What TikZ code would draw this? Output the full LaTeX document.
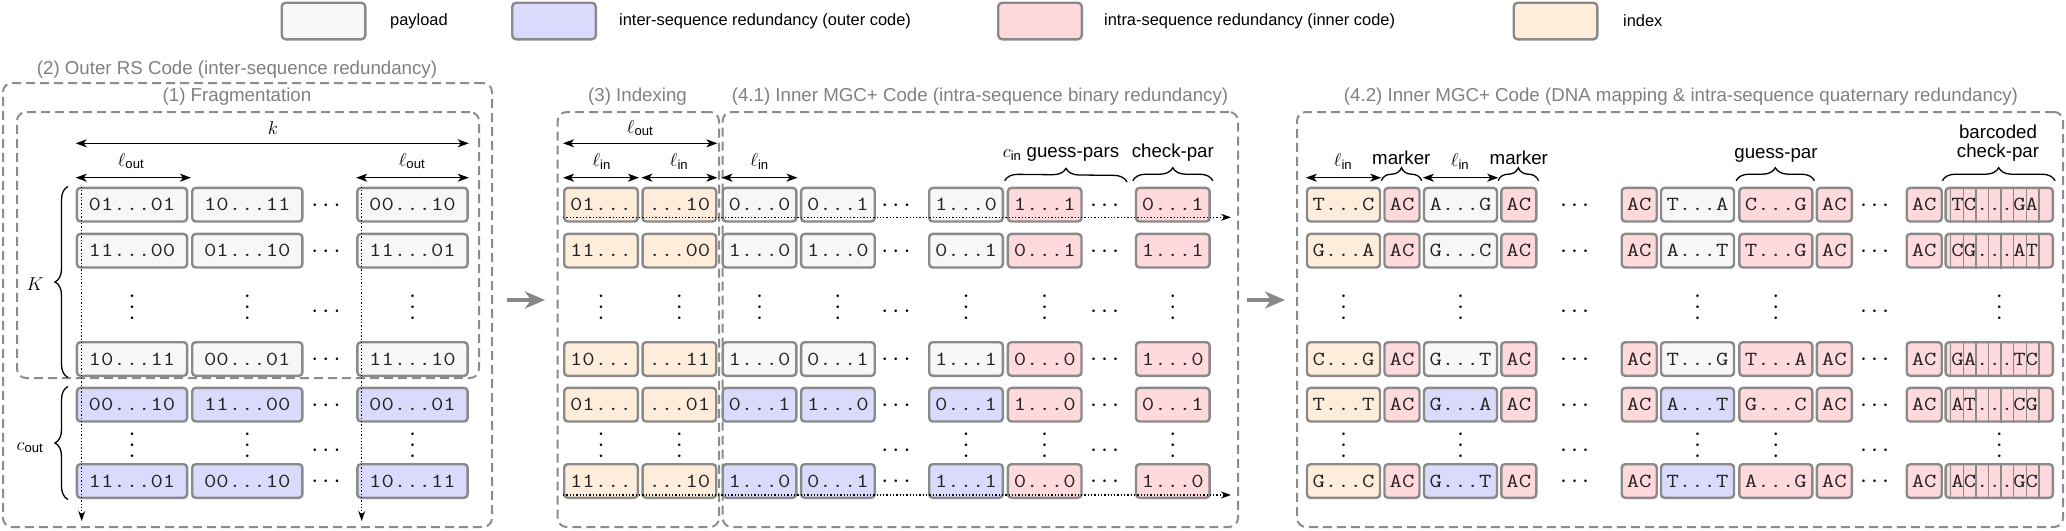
\RequirePackage{fix-cm}
\documentclass[tikz,border=0pt]{standalone}
\usepackage{amsmath}
\usepackage{fontspec}
\setmainfont{Liberation Sans}
\setmonofont{Latin Modern Mono}[FakeStretch=1.2]
\usetikzlibrary{arrows.meta,decorations.pathreplacing}
\definecolor{payc}{HTML}{F7F7F7}
\definecolor{outc}{HTML}{DADAFC}
\definecolor{innc}{HTML}{FFD9DC}
\definecolor{idxc}{HTML}{FFEDDB}
\definecolor{bordc}{HTML}{8A8A8A}
\definecolor{dashc}{HTML}{8C8C8C}
\definecolor{titlec}{HTML}{808080}
\definecolor{arrc}{HTML}{888888}
\definecolor{txtc}{HTML}{222222}
\newcommand{\vdts}{\vbox{\baselineskip=11pt\lineskiplimit=-100pt\hbox{$\cdot$}\hbox{$\cdot$}\hbox{$\cdot$}}}
\tikzset{
 cell/.style={draw=bordc, line width=2.4pt, rounded corners=3.5pt, minimum height=33.6pt, inner sep=0pt, text=txtc, font=\fontsize{20}{24}\selectfont\ttfamily},
 pay/.style={fill=payc}, outr/.style={fill=outc}, innr/.style={fill=innc}, idx/.style={fill=idxc},
 wL/.style={minimum width=110.2pt}, wM/.style={minimum width=73.6pt}, wR/.style={minimum width=73pt},
 wS/.style={minimum width=35pt}, wB/.style={minimum width=107.3pt},
 legbox/.style={draw=bordc, line width=2.4pt, rounded corners=4pt, minimum width=83.6pt, minimum height=36.6pt, inner sep=0pt},
 legtxt/.style={anchor=west, inner sep=0pt, font=\fontsize{16.4}{19}\selectfont},
 panel/.style={draw=dashc, line width=2pt, dash pattern=on 9pt off 5pt, rounded corners=9pt, inner sep=0pt},
 ptitle/.style={text=titlec, inner sep=0pt, font=\fontsize{18.7}{22}\selectfont},
 lbl/.style={inner sep=0pt, anchor=base, font=\fontsize{18.7}{22}\selectfont},
 dimar/.style={line width=1.3pt, >={Stealth[length=11pt,width=8pt,inset=3pt]}, <->},
 flow/.style={line width=1.3pt, dotted, >={Stealth[length=10pt,width=7pt]}, ->},
 brc/.style={line width=1.3pt, decorate, decoration={brace, amplitude=13pt}},
 bigar/.style={draw=arrc, line width=4pt, >={Stealth[length=20pt,width=17pt,inset=6pt]}, ->},
 hd/.style={anchor=base, inner sep=0pt, yshift=-6.3pt, font=\fontsize{25}{28}\selectfont},
 vd/.style={anchor=base, inner sep=0pt, yshift=-17.3pt, font=\fontsize{25}{28}\selectfont},
 bar/.style={draw=bordc, line width=1.5pt},
}
\newcommand{\cl}[5]{\node[cell,#4] (#1) at (#2,#3) {#5};}
\newcommand{\rrow}[8]{%
 \node[cell,idx,wR] (#1a) at (1343.5,#2) {#3};
 \node[cell,innr,wS] (#1b) at (1402,#2) {AC};
 \node[cell,#4,wR] (#1c) at (1460.5,#2) {#5};
 \node[cell,innr,wS] (#1d) at (1518.8,#2) {AC};
 \node[hd] (#1x) at (1576.7,#2) {$\cdots$};
 \node[cell,innr,wS] (#1e) at (1639.2,#2) {AC};
 \node[cell,#4,wR] (#1f) at (1697.5,#2) {#6};
 \node[cell,innr,wR] (#1g) at (1775.8,#2) {#7};
 \node[cell,innr,wS] (#1h) at (1834.3,#2) {AC};
 \node[hd] (#1y) at (1876.7,#2) {$\cdots$};
 \node[cell,innr,wS] (#1i) at (1924.2,#2) {AC};
 \node[cell,innr,wB] (#1j) at (1999.2,#2) {#8\kern9pt};
 \foreach \bi in {0,...,7} \draw[bar] ({1950.7+12.6*\bi},0 |- #1j.north) -- ({1950.7+12.6*\bi},0 |- #1j.south);
}
\def\rA{204.7}\def\rB{250.7}\def\rC{359}\def\rD{404.7}\def\rE{481}
\def\vA{307.5}\def\vB{445.5}\def\hA{311.5}\def\hB{450}
\begin{document}
\begin{tikzpicture}[x=1pt,y=-1pt]
\useasboundingbox (0,0) rectangle (2066,530);
% legend
\node[legbox,pay] (lg1) at (323.5,21) {};
\node[legtxt] (lt1) at (390,21) {payload};
\node[legbox,outr] (lg2) at (554,21) {};
\node[legtxt] (lt2) at (619,21) {inter-sequence redundancy (outer code)};
\node[legbox,innr] (lg3) at (1040,21) {};
\node[legtxt] (lt3) at (1104,21) {intra-sequence redundancy (inner code)};
\node[legbox,idx] (lg4) at (1555.5,21) {};
\node[legtxt] (lt4) at (1623,21) {index};
% panels
\node[panel, minimum width=489pt, minimum height=444pt] (P2) at (247.5,305) {};
\node[ptitle] (T2) at (237,69.5) {(2) Outer RS Code (inter-sequence redundancy)};
\node[panel, minimum width=462pt, minimum height=266pt] (P1) at (248,245) {};
\node[ptitle] (T1) at (237,97) {(1) Fragmentation};
\node[panel, minimum width=161.3pt, minimum height=415pt] (P3) at (638.35,319.5) {};
\node[ptitle] (T3) at (637.5,97) {(3) Indexing};
\node[panel, minimum width=515.3pt, minimum height=415pt] (P41) at (980.35,319.5) {};
\node[ptitle] (T41) at (980,97) {(4.1) Inner MGC+ Code (intra-sequence binary redundancy)};
\node[panel, minimum width=766pt, minimum height=415pt] (P42) at (1680,319.5) {};
\node[ptitle] (T42) at (1681,97) {(4.2) Inner MGC+ Code (DNA mapping \& intra-sequence quaternary redundancy)};
% ---------- left panel
\cl{L1a}{132}{\rA}{pay,wL}{01...01}\cl{L1b}{247.3}{\rA}{pay,wL}{10...11}\cl{L1c}{412.5}{\rA}{pay,wL}{00...10}
\cl{L2a}{132}{\rB}{pay,wL}{11...00}\cl{L2b}{247.3}{\rB}{pay,wL}{01...10}\cl{L2c}{412.5}{\rB}{pay,wL}{11...01}
\cl{L3a}{132}{\rC}{pay,wL}{10...11}\cl{L3b}{247.3}{\rC}{pay,wL}{00...01}\cl{L3c}{412.5}{\rC}{pay,wL}{11...10}
\cl{L4a}{132}{\rD}{outr,wL}{00...10}\cl{L4b}{247.3}{\rD}{outr,wL}{11...00}\cl{L4c}{412.5}{\rD}{outr,wL}{00...01}
\cl{L5a}{132}{\rE}{outr,wL}{11...01}\cl{L5b}{247.3}{\rE}{outr,wL}{00...10}\cl{L5c}{412.5}{\rE}{outr,wL}{10...11}
\foreach \yy/\nn in {\rA/1,\rB/2,\rC/3,\rD/4,\rE/5} \node[hd] (Lh\nn) at (328,\yy) {$\cdots$};
\foreach \xx [count=\i] in {132,247.3,412.5} {
 \node[vd] (Lva\i) at (\xx,\vA) {\vdts};
 \node[vd] (Lvb\i) at (\xx,\vB) {\vdts};
}
\node[hd] (Lhva) at (328,\hA) {$\cdots$};
\node[hd] (Lhvb) at (328,\hB) {$\cdots$};
% dimensions left
\draw[dimar] (L1a.west |- 0,143.3) -- (L1c.east |- 0,143.3);
\draw[dimar] (L1a.west |- 0,177.7) -- (L1b.west |- 0,177.7);
\draw[dimar] (L1c.west |- 0,177.7) -- (L1c.east |- 0,177.7);
\node[lbl] (lk) at (273,134) {$k$};
\node[lbl] (lo1) at (131,166) {$\ell_{\text{out}}$};
\node[lbl] (lo2) at (412,166) {$\ell_{\text{out}}$};
\coordinate (Kb) at (68,377.5); \coordinate (Kt) at (68,186.5);
\coordinate (Cb) at (68,499.5); \coordinate (Ct) at (68,386.5);
\draw[brc] (Kb) -- (Kt);
\draw[brc] (Cb) -- (Ct);
\node[lbl] (lK) at (35,290) {$K$};
\node[lbl] (lc) at (30,450) {$c_{\text{out}}$};
% ---------- middle panel
\cl{M1a}{601}{\rA}{idx,wM}{01...}\cl{M1b}{679.4}{\rA}{idx,wM}{...10}\cl{M1c}{759.5}{\rA}{pay,wM}{0...0}\cl{M1d}{837.9}{\rA}{pay,wM}{0...1}
\cl{M1e}{966}{\rA}{pay,wM}{1...0}\cl{M1f}{1044.7}{\rA}{innr,wM}{1...1}\cl{M1g}{1172.8}{\rA}{innr,wM}{0...1}
\cl{M2a}{601}{\rB}{idx,wM}{11...}\cl{M2b}{679.4}{\rB}{idx,wM}{...00}\cl{M2c}{759.5}{\rB}{pay,wM}{1...0}\cl{M2d}{837.9}{\rB}{pay,wM}{1...0}
\cl{M2e}{966}{\rB}{pay,wM}{0...1}\cl{M2f}{1044.7}{\rB}{innr,wM}{0...1}\cl{M2g}{1172.8}{\rB}{innr,wM}{1...1}
\cl{M3a}{601}{\rC}{idx,wM}{10...}\cl{M3b}{679.4}{\rC}{idx,wM}{...11}\cl{M3c}{759.5}{\rC}{pay,wM}{1...0}\cl{M3d}{837.9}{\rC}{pay,wM}{0...1}
\cl{M3e}{966}{\rC}{pay,wM}{1...1}\cl{M3f}{1044.7}{\rC}{innr,wM}{0...0}\cl{M3g}{1172.8}{\rC}{innr,wM}{1...0}
\cl{M4a}{601}{\rD}{idx,wM}{01...}\cl{M4b}{679.4}{\rD}{idx,wM}{...01}\cl{M4c}{759.5}{\rD}{outr,wM}{0...1}\cl{M4d}{837.9}{\rD}{outr,wM}{1...0}
\cl{M4e}{966}{\rD}{outr,wM}{0...1}\cl{M4f}{1044.7}{\rD}{innr,wM}{1...0}\cl{M4g}{1172.8}{\rD}{innr,wM}{0...1}
\cl{M5a}{601}{\rE}{idx,wM}{11...}\cl{M5b}{679.4}{\rE}{idx,wM}{...10}\cl{M5c}{759.5}{\rE}{outr,wM}{1...0}\cl{M5d}{837.9}{\rE}{outr,wM}{0...1}
\cl{M5e}{966}{\rE}{outr,wM}{1...1}\cl{M5f}{1044.7}{\rE}{innr,wM}{0...0}\cl{M5g}{1172.8}{\rE}{innr,wM}{1...0}
\foreach \yy/\nn in {\rA/1,\rB/2,\rC/3,\rD/4,\rE/5} {
 \node[hd] (Mh\nn) at (898,\yy) {$\cdots$};
 \node[hd] (Mk\nn) at (1106.7,\yy) {$\cdots$};
}
\foreach \xx [count=\i] in {601,679.4,759.5,837.9,966,1044.7,1172.8} \node[vd] (Mva\i) at (\xx,\vA) {\vdts};
\foreach \xx [count=\i] in {601,679.4,966,1044.7,1172.8} \node[vd] (Mvb\i) at (\xx,\vB) {\vdts};
\node[hd] (Mhva) at (898,\hA) {$\cdots$};
\node[hd] (Mkva) at (1106.7,\hA) {$\cdots$};
\node[hd] (Mhvb) at (898,\hB) {$\cdots$};
\node[hd] (Mkvb) at (1106.7,\hB) {$\cdots$};
\draw[dimar] (M1a.west |- 0,143.3) -- (M1b.east |- 0,143.3);
\draw[dimar] (M1a.west |- 0,177.7) -- (M1a.east |- 0,177.7);
\draw[dimar] (M1b.west |- 0,177.7) -- (M1b.east |- 0,177.7);
\draw[dimar] (M1c.west |- 0,177.7) -- (M1c.east |- 0,177.7);
\node[lbl] (lmo) at (640,133) {$\ell_{\text{out}}$};
\node[lbl] (lmi1) at (601.7,166) {$\ell_{\text{in}}$};
\node[lbl] (lmi2) at (679,166) {$\ell_{\text{in}}$};
\node[lbl] (lmi3) at (759.5,166) {$\ell_{\text{in}}$};
\coordinate (cgE) at (1127,182);
\draw[brc] ([xshift=-2pt,yshift=6pt]M1f.north west) -- (cgE);
\draw[brc] ([xshift=-2pt,yshift=6pt]M1g.north west) -- ([xshift=2pt,yshift=6pt]M1g.north east);
\node[lbl] (lgp) at (1061,157) {$c_{\text{in}}$ guess-pars};
\node[lbl] (lcp) at (1172.8,157) {check-par};
% ---------- right panel
\rrow{R1}{\rA}{T...C}{pay}{A...G}{T...A}{C...G}{TC...GA}
\rrow{R2}{\rB}{G...A}{pay}{G...C}{A...T}{T...G}{CG...AT}
\rrow{R3}{\rC}{C...G}{pay}{G...T}{T...G}{T...A}{GA...TC}
\rrow{R4}{\rD}{T...T}{outr}{G...A}{A...T}{G...C}{AT...CG}
\rrow{R5}{\rE}{G...C}{outr}{G...T}{T...T}{A...G}{AC...GC}
\foreach \xx [count=\i] in {1343.5,1460.5,1697.5,1775.8,1999.2} {
 \node[vd] (Rva\i) at (\xx,\vA) {\vdts};
 \node[vd] (Rvb\i) at (\xx,\vB) {\vdts};
}
\node[hd] (Rhva) at (1576.7,\hA) {$\cdots$};
\node[hd] (Rkva) at (1876.7,\hA) {$\cdots$};
\node[hd] (Rhvb) at (1576.7,\hB) {$\cdots$};
\node[hd] (Rkvb) at (1876.7,\hB) {$\cdots$};
\draw[dimar] (R1a.west |- 0,177.7) -- (R1a.east |- 0,177.7);
\draw[dimar] (R1c.west |- 0,177.7) -- (R1c.east |- 0,177.7);
\node[lbl] (lri1) at (1343,166) {$\ell_{\text{in}}$};
\node[lbl] (lri2) at (1460,166) {$\ell_{\text{in}}$};
\draw[brc] ([xshift=-2pt,yshift=6pt]R1b.north west) -- ([xshift=1pt,yshift=6pt]R1b.north east);
\draw[brc] ([xshift=-2pt,yshift=6pt]R1d.north west) -- ([xshift=1pt,yshift=6pt]R1d.north east);
\draw[brc] ([xshift=-2pt,yshift=6pt]R1g.north west) -- ([xshift=1pt,yshift=6pt]R1g.north east);
\draw[brc] ([xshift=-2pt,yshift=6pt]R1j.north west) -- ([xshift=1pt,yshift=6pt]R1j.north east);
\node[lbl] (lmk1) at (1401.3,164) {marker};
\node[lbl] (lmk2) at (1518.8,164) {marker};
\node[lbl] (lgq) at (1776,158) {guess-par};
\node[lbl] (lbc1) at (1998,138) {barcoded};
\node[lbl] (lbc2) at (1998,157) {check-par};
% ---------- flows
\coordinate (fa1) at (81.7,186.7); \coordinate (fa2) at (81.7,521);
\coordinate (fb1) at (361.7,186.7); \coordinate (fb2) at (361.7,521);
\coordinate (fc1) at (563,217.3); \coordinate (fc2) at (1231,217.3);
\coordinate (fd1) at (563,495); \coordinate (fd2) at (1231,495);
\draw[flow] (fa1) -- (fa2);
\draw[flow] (fb1) -- (fb2);
\draw[flow] (fc1) -- (fc2);
\draw[flow] (fd1) -- (fd2);
\coordinate (ga1) at (507,300); \coordinate (ga2) at (545,300);
\coordinate (gb1) at (1246.7,300); \coordinate (gb2) at (1285,300);
\draw[bigar] (ga1) -- (ga2);
\draw[bigar] (gb1) -- (gb2);
\end{tikzpicture}
\end{document}
